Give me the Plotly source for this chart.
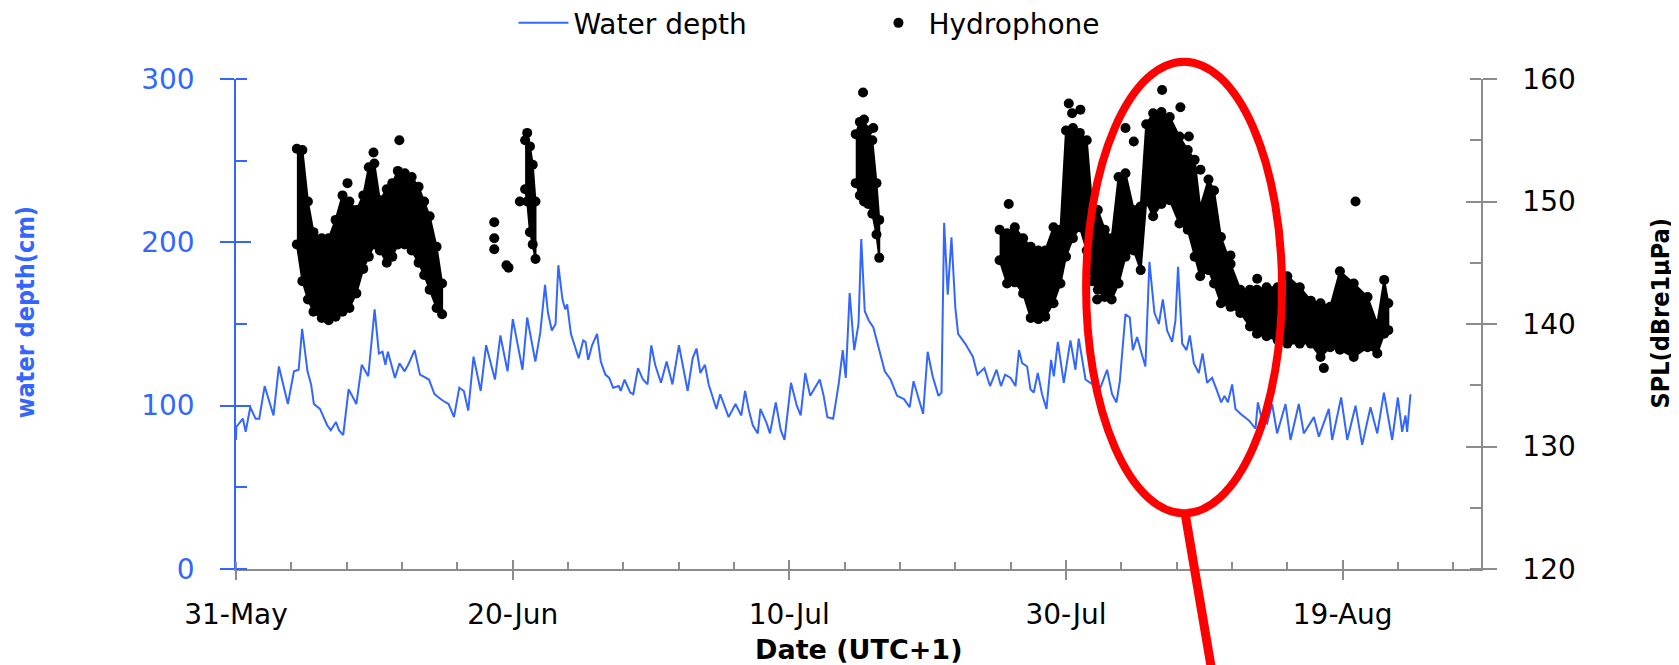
import numpy as np
import pandas as pd
import plotly.graph_objects as go

# day 0 = 31 May
start = pd.Timestamp("2014-05-31")

# water depth (cm), left axis
depth_day = [0.0, 0.02, 0.5, 0.7, 1.03, 1.42, 1.68, 2.07, 2.71, 3.1, 3.75, 4.19, 4.53, 4.78, 5.17, 5.43,
             5.63, 6.07, 6.59, 6.85, 7.23, 7.44, 7.75, 8.14, 8.4, 8.7, 9.09, 9.56, 10.02, 10.33, 10.59,
             10.8, 10.98, 11.49, 11.82, 12.19, 12.5, 12.91, 13.3, 13.95, 14.35, 14.96, 15.37, 15.76,
             16.14, 16.47, 16.79, 17.17, 17.69, 18.08, 18.72, 19.11, 19.63, 20.01, 20.71, 21.05, 21.64,
             22.0, 22.34, 22.55, 22.83, 23.1, 23.3, 23.6, 23.8, 23.94, 24.21, 24.49, 24.77, 25.1, 25.27,
             25.46, 25.74, 26.1, 26.37, 26.7, 26.98, 27.26, 27.67, 27.81, 28.09, 28.5, 28.72, 29.06,
             29.42, 29.75, 30.02, 30.3, 30.72, 31.13, 31.55, 32.02, 32.38, 32.65, 33.01, 33.29, 33.57,
             33.9, 34.17, 34.73, 35.0, 35.61, 36.11, 36.53, 36.8, 37.08, 37.36, 37.72, 37.91, 38.33,
             38.6, 39.02, 39.38, 39.65, 40.12, 40.54, 40.82, 41.15, 41.51, 42.2, 42.48, 42.75, 43.17,
             43.58, 43.86, 44.08, 44.36, 44.69, 45.0, 45.2, 45.45, 45.75, 46.07, 46.49, 46.9, 47.32,
             47.79, 48.29, 48.7, 48.98, 49.34, 49.67, 50.0, 50.36, 50.78, 51.0, 51.19, 51.45, 51.72,
             52.0, 52.2, 52.71, 53.27, 53.6, 54.1, 54.51, 54.98, 55.3, 55.6, 56.0, 56.35, 56.6, 56.83,
             57.19, 57.43, 57.67, 57.96, 58.27, 58.59, 58.92, 59.12, 59.41, 59.84, 60.32, 60.68, 60.92,
             61.41, 61.89, 62.44, 62.97, 63.33, 63.65, 63.89, 64.3, 64.61, 64.83, 65.14, 65.43, 65.74,
             66.03, 66.39, 66.71, 67.0, 67.31, 67.67, 67.91, 68.1, 68.4, 68.71, 68.95, 69.24, 69.6,
             69.87, 70.2, 70.56, 70.88, 71.22, 71.46, 71.7, 72.01, 72.25, 72.61, 73.22, 73.7, 73.87,
             74.18, 74.54, 74.9, 75.26, 75.87, 76.23, 76.83, 77.19, 77.92, 78.28, 79.0, 79.24, 79.89,
             80.33, 80.93, 81.41, 82.01, 82.5, 82.98, 83.58, 83.99, 84.3, 84.54, 84.66, 84.9]
depth_cm = [79, 87, 92, 84, 99, 92, 92, 112, 94, 124, 101, 121, 122, 147, 121, 113,
            101, 98, 88, 85, 90, 85, 82, 110, 106, 101, 125, 118, 159, 132, 133,
            125, 133, 117, 126, 121, 126, 134, 119, 116, 107, 103, 101, 93,
            111, 109, 97, 130, 109, 137, 116, 143, 121, 153, 122, 154, 127,
            145, 174, 157, 146, 150, 186, 165, 159, 162, 144, 136, 129, 140, 139,
            128, 137, 144, 127, 119, 117, 111, 112, 109, 116, 108, 107, 123,
            116, 113, 137, 125, 114, 127, 113, 137, 120, 109, 129, 135, 120,
            125, 113, 98, 107, 93, 101, 94, 109, 97, 88, 83, 98, 90,
            83, 102, 85, 79, 114, 100, 94, 120, 106, 116, 106, 93, 92,
            114, 134, 117, 169, 134, 150, 202, 158, 152, 148, 135, 121, 116,
            106, 104, 99, 115, 104, 95, 133, 118, 106, 108, 212, 168, 203,
            160, 144, 138, 130, 119, 123, 112, 122, 112, 119, 117, 112, 134, 126,
            124, 110, 108, 120, 107, 98, 128, 118, 139, 114, 140, 122, 141,
            116, 113, 110, 122, 107, 102, 115, 156, 154, 134, 142, 133, 124,
            188, 157, 150, 165, 146, 139, 152, 185, 138, 134, 143, 126, 120,
            132, 114, 117, 110, 102, 106, 102, 113, 98, 95, 91, 86, 102,
            91, 89, 101, 83, 101, 79, 101, 83, 93, 81, 98, 79, 105,
            79, 100, 76, 99, 83, 108, 79, 105, 84, 94, 84, 107]

# hydrophone SPL (dB re 1 uPa), right axis: upper / lower edge of each dense burst
burst1_day = [4.4, 4.8, 5.2, 5.6, 6.2, 6.7, 7.2, 7.7, 8.2, 8.7, 9.2, 9.6, 10.0, 10.4, 10.9, 11.3,
              11.7, 12.2, 12.7, 13.2, 13.6, 14.0, 14.5, 14.9]
burst1_top = [154.3, 154.2, 150.0, 147.5, 147.0, 147.0, 148.5, 150.5, 150.0, 149.3, 150.5, 152.8,
              153.1, 150.1, 151.0, 151.5, 152.5, 152.3, 152.0, 151.2, 150.0, 148.8, 146.3, 143.3]
burst1_bot = [146.5, 143.5, 142.0, 141.0, 140.5, 140.3, 140.6, 141.0, 141.3, 142.5, 144.5, 145.5,
              146.5, 146.0, 145.0, 145.5, 146.5, 146.5, 146.0, 145.0, 144.0, 142.8, 141.3, 140.8]

burst2_day = [20.9, 21.05, 21.25, 21.45, 21.65]
burst2_top = [155.0, 155.6, 154.5, 153.0, 150.0]
burst2_bot = [151.0, 150.0, 147.5, 146.5, 145.3]

burst3_day = [44.8, 45.1, 45.4, 45.7, 46.0, 46.3, 46.5]
burst3_top = [155.5, 156.5, 156.7, 155.8, 155.0, 151.5, 148.5]
burst3_bot = [151.5, 150.5, 150.0, 149.8, 149.0, 147.3, 145.4]

burst4_day = [55.2, 55.74, 56.3, 56.9, 57.45, 58.0, 58.5, 59.1, 59.6, 60.0, 60.5, 61.0, 61.5,
              61.9, 62.3, 62.8, 63.3, 63.8, 64.3, 64.9, 65.4, 65.8, 66.3, 66.9, 67.5, 68.2, 68.8,
              69.3, 69.7, 70.3, 70.7, 71.2, 71.9, 72.6, 73.3, 73.8, 74.5, 75.3, 76.0, 76.9, 77.7,
              78.4, 79.1, 79.8, 80.8, 81.8, 82.5, 83.0, 83.3]
burst4_top = [147.7, 147.4, 147.9, 147.0, 146.3, 146.0, 146.0, 147.9, 147.7, 155.8, 156.0, 155.6,
              155.0, 149.5, 149.3, 147.7, 147.0, 152.0, 152.3, 149.3, 149.6, 156.3, 157.2, 157.3,
              156.9, 155.3, 154.2, 153.4, 149.5, 151.8, 150.9, 147.1, 144.9, 142.8, 142.8, 142.8,
              143.0, 143.0, 143.9, 143.0, 141.9, 141.7, 141.4, 144.3, 143.3, 142.2, 140.0, 143.6, 141.7]
burst4_bot = [145.2, 143.3, 143.4, 142.5, 140.5, 140.4, 140.6, 141.7, 143.3, 145.5, 147.0, 147.9,
              146.0, 143.5, 142.8, 142.2, 142.0, 143.3, 145.5, 146.0, 144.4, 150.0, 148.8, 149.8,
              150.1, 148.2, 147.7, 145.5, 143.9, 144.4, 143.3, 141.7, 141.4, 140.9, 139.8, 139.2,
              139.0, 138.7, 138.4, 138.4, 138.4, 137.3, 138.1, 137.9, 137.3, 138.1, 137.6, 139.2, 139.5]

# scattered single readings
single_day = [8.06, 9.94, 11.81, 18.67, 18.67, 18.67, 19.55, 19.7, 20.52, 45.33, 46.07, 55.86,
              60.2, 60.44, 61.04, 62.25, 64.3, 64.9, 66.95, 68.27, 68.88, 69.72, 71.89, 73.82,
              78.64, 80.93]
single_spl = [151.5, 154.0, 155.0, 148.3, 147.0, 146.1, 144.8, 144.6, 150.0, 158.9, 156.0, 149.8,
              158.0, 157.2, 157.5, 142.0, 156.0, 154.9, 159.1, 157.7, 155.3, 152.6, 145.6, 143.7,
              136.4, 150.0]

BLUE = "#3366ff"
GREY = "#8c8c8c"
DAY_MS = 86400000


def to_dates(days):
    return start + pd.to_timedelta(np.asarray(days, dtype=float), unit="D")


fig = go.Figure()

bursts = [(burst1_day, burst1_top, burst1_bot), (burst2_day, burst2_top, burst2_bot),
          (burst3_day, burst3_top, burst3_bot), (burst4_day, burst4_top, burst4_bot)]

# dense bursts drawn as filled envelopes
for d, top, bot in bursts:
    fig.add_trace(go.Scatter(
        x=to_dates(list(d) + list(d)[::-1]), y=list(top) + list(bot)[::-1],
        fill="toself", fillcolor="black", mode="lines", line=dict(color="black", width=2),
        showlegend=False, hoverinfo="skip", yaxis="y"))

all_day, all_spl = [], []
for d, top, bot in bursts:
    all_day += list(d) + list(d)
    all_spl += list(top) + list(bot)
all_day += single_day
all_spl += single_spl

fig.add_trace(go.Scatter(
    x=to_dates(all_day), y=all_spl, mode="markers", name="Hydrophone",
    marker=dict(color="black", size=10, symbol="circle"), yaxis="y", legendrank=2))

fig.add_trace(go.Scatter(
    x=to_dates(depth_day), y=depth_cm, mode="lines", name="Water depth",
    line=dict(color=BLUE, width=2), yaxis="y2", legendrank=1))

# empty traces only so the tick overlay axes get drawn
fig.add_trace(go.Scatter(x=[None], y=[None], xaxis="x2", yaxis="y", showlegend=False))
fig.add_trace(go.Scatter(x=[None], y=[None], xaxis="x", yaxis="y3", showlegend=False))
fig.add_trace(go.Scatter(x=[None], y=[None], xaxis="x", yaxis="y4", showlegend=False))

x_range = [start, start + pd.Timedelta(days=90)]
FONT = "DejaVu Sans, Verdana, sans-serif"
tick_font = dict(family=FONT, size=28, color="black")

# the page body adds an 8px offset, so the figure is 8px smaller each way
fig.update_layout(
    width=1671, height=657,
    margin=dict(l=228, r=198, t=71, b=96, autoexpand=False),
    plot_bgcolor="white", paper_bgcolor="white",
    font=dict(family=FONT, color="black"),
    showlegend=True,
    legend=dict(orientation="h", x=0.508, xanchor="center", y=1.114, yanchor="middle",
                font=dict(size=28, color="black"), itemwidth=50, entrywidth=290,
                bgcolor="rgba(0,0,0,0)"),
    xaxis=dict(type="date", range=x_range, tick0=start, dtick=20 * DAY_MS, tickformat="%-d-%b",
               showline=True, linecolor=GREY, linewidth=1.5, showgrid=False, zeroline=False,
               ticks="outside", ticklen=9, tickwidth=1.5, tickcolor=GREY, tickfont=tick_font,
               ticklabelstandoff=11,
               minor=dict(ticks="inside", ticklen=7, tickwidth=1.5, tickcolor=GREY,
                          tick0=start, dtick=4 * DAY_MS, showgrid=False)),
    xaxis2=dict(type="date", range=x_range, overlaying="x", anchor="y", side="bottom",
                tick0=start, dtick=20 * DAY_MS, ticks="inside", ticklen=9, tickwidth=1.5,
                tickcolor=GREY, showticklabels=False, showline=False, showgrid=False,
                zeroline=False),
    yaxis=dict(range=[120, 160], dtick=10, side="right", anchor="x",
               showline=True, linecolor=GREY, linewidth=1.5, showgrid=False, zeroline=False,
               ticks="outside", ticklen=14, tickwidth=1.5, tickcolor=GREY, tickfont=tick_font,
               ticklabelstandoff=20,
               minor=dict(ticks="inside", ticklen=11, tickwidth=1.5, tickcolor=GREY,
                          dtick=5, showgrid=False)),
    yaxis2=dict(range=[0, 300], dtick=100, side="left", overlaying="y", anchor="x",
                showline=True, linecolor=BLUE, linewidth=1.5, showgrid=False, zeroline=False,
                ticks="outside", ticklen=14, tickwidth=1.5, tickcolor=BLUE,
                tickfont=dict(family=FONT, size=28, color=BLUE),
                ticklabelstandoff=20,
                minor=dict(ticks="inside", ticklen=11, tickwidth=1.5, tickcolor=BLUE,
                           dtick=50, showgrid=False)),
    yaxis3=dict(range=[0, 300], dtick=100, side="left", overlaying="y", anchor="x",
                ticks="inside", ticklen=15, tickwidth=1.5, tickcolor=BLUE,
                showticklabels=False, showline=False, showgrid=False, zeroline=False),
    yaxis4=dict(range=[120, 160], dtick=10, side="right", overlaying="y", anchor="x",
                ticks="inside", ticklen=15, tickwidth=1.5, tickcolor=GREY,
                showticklabels=False, showline=False, showgrid=False, zeroline=False),
)

title_font = "Liberation Sans Narrow, DejaVu Sans Condensed, Liberation Sans, Arial, sans-serif"
fig.add_annotation(text="<b>water depth(cm)</b>", xref="paper", yref="paper", x=-0.1688, y=0.5235,
                   textangle=-90, showarrow=False, xanchor="center", yanchor="middle",
                   font=dict(family=title_font, size=25, color=BLUE))
fig.add_annotation(text="<b>SPL(dBre1μPa)</b>", xref="paper", yref="paper", x=1.1441, y=0.5224,
                   textangle=-90, showarrow=False, xanchor="center", yanchor="middle",
                   font=dict(family=title_font, size=25, color="black"))
fig.add_annotation(text="<b>Date (UTC+1)</b>", xref="paper", yref="paper", x=0.5, y=-0.1653,
                   showarrow=False, xanchor="center", yanchor="middle",
                   font=dict(family=FONT, size=27, color="black"))

# red highlight: ellipse with a pointer line running off the bottom
fig.add_shape(type="circle", xref="paper", yref="paper", x0=0.6828, x1=0.8402, y0=0.1137, y1=1.0353,
              line=dict(color="red", width=8))
fig.add_shape(type="line", xref="paper", yref="paper", x0=0.7623, y0=0.1137, x1=0.7846, y1=-0.22,
              line=dict(color="red", width=9))

fig.write_html("out.html")
